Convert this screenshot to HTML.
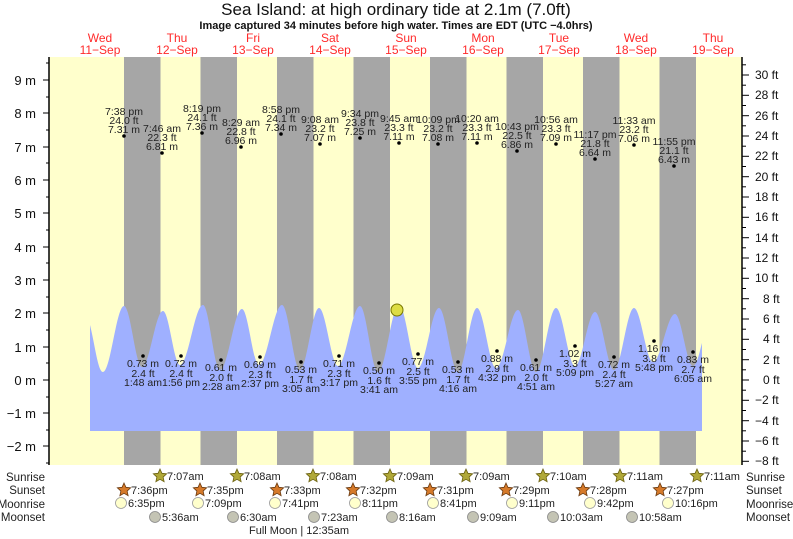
<!DOCTYPE html>
<html><head><meta charset="utf-8"><style>
html,body{margin:0;padding:0;background:#fff;}
svg{display:block;font-family:"Liberation Sans",sans-serif;}
</style></head><body>
<svg width="793" height="539" viewBox="0 0 793 539" xmlns="http://www.w3.org/2000/svg">
<rect width="793" height="539" fill="#fff"/>
<text x="396" y="15" text-anchor="middle" font-size="17" fill="#111">Sea Island: at high  ordinary tide at 2.1m (7.0ft)</text>
<text x="396" y="29" text-anchor="middle" font-size="11" font-weight="bold" fill="#111">Image captured 34 minutes before high water. Times are EDT (UTC −4.0hrs)</text>
<g font-size="12" fill="#ff2a2a" text-anchor="middle">
<text x="100" y="42">Wed</text><text x="100" y="54">11−Sep</text>
<text x="177" y="42">Thu</text><text x="177" y="54">12−Sep</text>
<text x="253" y="42">Fri</text><text x="253" y="54">13−Sep</text>
<text x="330" y="42">Sat</text><text x="330" y="54">14−Sep</text>
<text x="406" y="42">Sun</text><text x="406" y="54">15−Sep</text>
<text x="483" y="42">Mon</text><text x="483" y="54">16−Sep</text>
<text x="559" y="42">Tue</text><text x="559" y="54">17−Sep</text>
<text x="636" y="42">Wed</text><text x="636" y="54">18−Sep</text>
<text x="713" y="42">Thu</text><text x="713" y="54">19−Sep</text>
</g>
<rect x="49" y="57" width="693" height="408" fill="#ffffcc"/>
<g fill="#a6a6a6">
<rect x="124" y="57" width="36.5" height="408"/><rect x="200.5" y="57" width="36.5" height="408"/>
<rect x="277" y="57" width="36.5" height="408"/><rect x="353.5" y="57" width="36.5" height="408"/>
<rect x="430" y="57" width="36.5" height="408"/><rect x="506.5" y="57" width="36.5" height="408"/>
<rect x="583" y="57" width="36.5" height="408"/><rect x="659.5" y="57" width="36.5" height="408"/>
</g>
<path fill="#9fb0ff" d="M90,431 L90,325 C95,345 98,372 103,372 C110.6,372 116.4,306 124,306 C130.5,306 135.5,367 142,367 C149.6,367 155.4,311 163,311 C169.1,311 173.9,365 180,365 C188.3,365 194.7,305 203,305 C209.1,305 213.9,370 220,370 C227.9,370 234.1,309 242,309 C248.1,309 252.9,365 259,365 C267.3,365 273.7,305 282,305 C288.5,305 293.5,370 300,370 C306.8,370 312.2,308 319,308 C325.8,308 331.2,366 338,366 C345.9,366 352.1,306 360,306 C366.5,306 371.5,372 378,372 C385.6,372 391.4,305 399,305 C405.8,305 411.2,368 418,368 C425.6,368 431.4,308 439,308 C445.8,308 451.2,372 458,372 C464.8,372 470.2,308 477,308 C483.8,308 489.2,368 496,368 C503.9,368 510.1,310 518,310 C524.5,310 529.5,372 536,372 C543.2,372 548.8,308 556,308 C562.8,308 568.2,366 575,366 C582.2,366 587.8,312 595,312 C601.8,312 607.2,370 614,370 C621.2,370 626.8,308 634,308 C640.8,308 646.2,362 653,362 C660.9,362 667.1,314 675,314 C681.5,314 686.5,366 693,366 C697,366 700,350 702,343 L702,431 Z"/>
<circle cx="397" cy="310" r="6" fill="#dddd44" stroke="#777700" stroke-width="1"/>
<line x1="49" y1="57" x2="49" y2="465" stroke="#000" stroke-width="1.5"/>
<g stroke="#000" stroke-width="1">
<line x1="43" y1="80" x2="49" y2="80"/><line x1="43" y1="113" x2="49" y2="113"/><line x1="43" y1="147" x2="49" y2="147"/><line x1="43" y1="180" x2="49" y2="180"/><line x1="43" y1="213" x2="49" y2="213"/><line x1="43" y1="247" x2="49" y2="247"/><line x1="43" y1="280" x2="49" y2="280"/><line x1="43" y1="313" x2="49" y2="313"/><line x1="43" y1="347" x2="49" y2="347"/><line x1="43" y1="380" x2="49" y2="380"/><line x1="43" y1="413" x2="49" y2="413"/><line x1="43" y1="446" x2="49" y2="446"/>
<line x1="46" y1="63" x2="49" y2="63"/><line x1="46" y1="97" x2="49" y2="97"/><line x1="46" y1="130" x2="49" y2="130"/><line x1="46" y1="163" x2="49" y2="163"/><line x1="46" y1="197" x2="49" y2="197"/><line x1="46" y1="230" x2="49" y2="230"/><line x1="46" y1="263" x2="49" y2="263"/><line x1="46" y1="297" x2="49" y2="297"/><line x1="46" y1="330" x2="49" y2="330"/><line x1="46" y1="363" x2="49" y2="363"/><line x1="46" y1="397" x2="49" y2="397"/><line x1="46" y1="430" x2="49" y2="430"/><line x1="46" y1="463" x2="49" y2="463"/>
</g>
<g font-size="13" text-anchor="end" fill="#111">
<text x="36" y="85">9 m</text><text x="36" y="118">8 m</text><text x="36" y="152">7 m</text><text x="36" y="185">6 m</text><text x="36" y="218">5 m</text><text x="36" y="252">4 m</text><text x="36" y="285">3 m</text><text x="36" y="318">2 m</text><text x="36" y="352">1 m</text><text x="36" y="385">0 m</text><text x="36" y="418">−1 m</text><text x="36" y="451">−2 m</text>
</g>
<line x1="742" y1="57" x2="742" y2="465" stroke="#000" stroke-width="1.5"/>
<g stroke="#000" stroke-width="1">
<line x1="742" y1="75" x2="749" y2="75"/><line x1="742" y1="95.3" x2="749" y2="95.3"/><line x1="742" y1="115.7" x2="749" y2="115.7"/><line x1="742" y1="136" x2="749" y2="136"/><line x1="742" y1="156.3" x2="749" y2="156.3"/><line x1="742" y1="176.7" x2="749" y2="176.7"/><line x1="742" y1="197" x2="749" y2="197"/><line x1="742" y1="217.3" x2="749" y2="217.3"/><line x1="742" y1="237.7" x2="749" y2="237.7"/><line x1="742" y1="258" x2="749" y2="258"/><line x1="742" y1="278.3" x2="749" y2="278.3"/><line x1="742" y1="298.7" x2="749" y2="298.7"/><line x1="742" y1="319" x2="749" y2="319"/><line x1="742" y1="339.3" x2="749" y2="339.3"/><line x1="742" y1="359.7" x2="749" y2="359.7"/><line x1="742" y1="380" x2="749" y2="380"/><line x1="742" y1="400.3" x2="749" y2="400.3"/><line x1="742" y1="420.7" x2="749" y2="420.7"/><line x1="742" y1="441" x2="749" y2="441"/><line x1="742" y1="461.3" x2="749" y2="461.3"/>
<line x1="742" y1="64.8" x2="746" y2="64.8"/><line x1="742" y1="85.2" x2="746" y2="85.2"/><line x1="742" y1="105.5" x2="746" y2="105.5"/><line x1="742" y1="125.8" x2="746" y2="125.8"/><line x1="742" y1="146.2" x2="746" y2="146.2"/><line x1="742" y1="166.5" x2="746" y2="166.5"/><line x1="742" y1="186.8" x2="746" y2="186.8"/><line x1="742" y1="207.2" x2="746" y2="207.2"/><line x1="742" y1="227.5" x2="746" y2="227.5"/><line x1="742" y1="247.8" x2="746" y2="247.8"/><line x1="742" y1="268.2" x2="746" y2="268.2"/><line x1="742" y1="288.5" x2="746" y2="288.5"/><line x1="742" y1="308.8" x2="746" y2="308.8"/><line x1="742" y1="329.2" x2="746" y2="329.2"/><line x1="742" y1="349.5" x2="746" y2="349.5"/><line x1="742" y1="369.8" x2="746" y2="369.8"/><line x1="742" y1="390.2" x2="746" y2="390.2"/><line x1="742" y1="410.5" x2="746" y2="410.5"/><line x1="742" y1="430.8" x2="746" y2="430.8"/><line x1="742" y1="451.2" x2="746" y2="451.2"/>
</g>
<g font-size="12" fill="#111">
<text x="755" y="79">30 ft</text><text x="755" y="99">28 ft</text><text x="755" y="120">26 ft</text><text x="755" y="140">24 ft</text><text x="755" y="160">22 ft</text><text x="755" y="181">20 ft</text><text x="755" y="201">18 ft</text><text x="755" y="221">16 ft</text><text x="755" y="242">14 ft</text><text x="755" y="262">12 ft</text><text x="755" y="282">10 ft</text><text x="763" y="303">8 ft</text><text x="763" y="323">6 ft</text><text x="763" y="343">4 ft</text><text x="763" y="364">2 ft</text><text x="763" y="384">0 ft</text><text x="755" y="404">−2 ft</text><text x="755" y="425">−4 ft</text><text x="755" y="445">−6 ft</text><text x="755" y="465">−8 ft</text>
</g>
<g fill="#000"><circle cx="124" cy="136" r="1.8"/><circle cx="162" cy="153" r="1.8"/><circle cx="202" cy="133" r="1.8"/><circle cx="241" cy="147" r="1.8"/><circle cx="281" cy="134" r="1.8"/><circle cx="320" cy="144" r="1.8"/><circle cx="360" cy="138" r="1.8"/><circle cx="399" cy="143" r="1.8"/><circle cx="438" cy="144" r="1.8"/><circle cx="477" cy="143" r="1.8"/><circle cx="517" cy="151" r="1.8"/><circle cx="556" cy="144" r="1.8"/><circle cx="595" cy="159" r="1.8"/><circle cx="634" cy="145" r="1.8"/><circle cx="674" cy="166" r="1.8"/>
<circle cx="143" cy="356" r="1.8"/><circle cx="181" cy="356" r="1.8"/><circle cx="221" cy="360" r="1.8"/><circle cx="260" cy="357" r="1.8"/><circle cx="301" cy="362" r="1.8"/><circle cx="339" cy="356" r="1.8"/><circle cx="379" cy="363" r="1.8"/><circle cx="418" cy="354" r="1.8"/><circle cx="458" cy="362" r="1.8"/><circle cx="497" cy="351" r="1.8"/><circle cx="536" cy="360" r="1.8"/><circle cx="575" cy="346" r="1.8"/><circle cx="614" cy="357" r="1.8"/><circle cx="654" cy="341" r="1.8"/><circle cx="693" cy="352" r="1.8"/></g>
<g font-size="10.5" fill="#222" text-anchor="middle">
<text x="124" y="115">7:38 pm</text><text x="124" y="124">24.0 ft</text><text x="124" y="133">7.31 m</text>
<text x="162" y="132">7:46 am</text><text x="162" y="141">22.3 ft</text><text x="162" y="150">6.81 m</text>
<text x="202" y="112">8:19 pm</text><text x="202" y="121">24.1 ft</text><text x="202" y="130">7.36 m</text>
<text x="241" y="126">8:29 am</text><text x="241" y="135">22.8 ft</text><text x="241" y="144">6.96 m</text>
<text x="281" y="113">8:58 pm</text><text x="281" y="122">24.1 ft</text><text x="281" y="131">7.34 m</text>
<text x="320" y="123">9:08 am</text><text x="320" y="132">23.2 ft</text><text x="320" y="141">7.07 m</text>
<text x="360" y="117">9:34 pm</text><text x="360" y="126">23.8 ft</text><text x="360" y="135">7.25 m</text>
<text x="399" y="122">9:45 am</text><text x="399" y="131">23.3 ft</text><text x="399" y="140">7.11 m</text>
<text x="438" y="123">10:09 pm</text><text x="438" y="132">23.2 ft</text><text x="438" y="141">7.08 m</text>
<text x="477" y="122">10:20 am</text><text x="477" y="131">23.3 ft</text><text x="477" y="140">7.11 m</text>
<text x="517" y="130">10:43 pm</text><text x="517" y="139">22.5 ft</text><text x="517" y="148">6.86 m</text>
<text x="556" y="123">10:56 am</text><text x="556" y="132">23.3 ft</text><text x="556" y="141">7.09 m</text>
<text x="595" y="138">11:17 pm</text><text x="595" y="147">21.8 ft</text><text x="595" y="156">6.64 m</text>
<text x="634" y="124">11:33 am</text><text x="634" y="133">23.2 ft</text><text x="634" y="142">7.06 m</text>
<text x="674" y="145">11:55 pm</text><text x="674" y="154">21.1 ft</text><text x="674" y="163">6.43 m</text>
<text x="143" y="367">0.73 m</text><text x="143" y="377">2.4 ft</text><text x="143" y="386">1:48 am</text>
<text x="181" y="367">0.72 m</text><text x="181" y="377">2.4 ft</text><text x="181" y="386">1:56 pm</text>
<text x="221" y="371">0.61 m</text><text x="221" y="381">2.0 ft</text><text x="221" y="390">2:28 am</text>
<text x="260" y="368">0.69 m</text><text x="260" y="378">2.3 ft</text><text x="260" y="387">2:37 pm</text>
<text x="301" y="373">0.53 m</text><text x="301" y="383">1.7 ft</text><text x="301" y="392">3:05 am</text>
<text x="339" y="367">0.71 m</text><text x="339" y="377">2.3 ft</text><text x="339" y="386">3:17 pm</text>
<text x="379" y="374">0.50 m</text><text x="379" y="384">1.6 ft</text><text x="379" y="393">3:41 am</text>
<text x="418" y="365">0.77 m</text><text x="418" y="375">2.5 ft</text><text x="418" y="384">3:55 pm</text>
<text x="458" y="373">0.53 m</text><text x="458" y="383">1.7 ft</text><text x="458" y="392">4:16 am</text>
<text x="497" y="362">0.88 m</text><text x="497" y="372">2.9 ft</text><text x="497" y="381">4:32 pm</text>
<text x="536" y="371">0.61 m</text><text x="536" y="381">2.0 ft</text><text x="536" y="390">4:51 am</text>
<text x="575" y="357">1.02 m</text><text x="575" y="367">3.3 ft</text><text x="575" y="376">5:09 pm</text>
<text x="614" y="368">0.72 m</text><text x="614" y="378">2.4 ft</text><text x="614" y="387">5:27 am</text>
<text x="654" y="352">1.16 m</text><text x="654" y="362">3.8 ft</text><text x="654" y="371">5:48 pm</text>
<text x="693" y="363">0.83 m</text><text x="693" y="373">2.7 ft</text><text x="693" y="382">6:05 am</text>
</g>
<g font-size="11.5" fill="#222">
<g text-anchor="end"><text x="45" y="481">Sunrise</text><text x="45" y="494">Sunset</text><text x="45" y="508">Moonrise</text><text x="45" y="521">Moonset</text></g>
<text x="746" y="481">Sunrise</text><text x="746" y="494">Sunset</text><text x="746" y="508">Moonrise</text><text x="746" y="521">Moonset</text>
</g>
<g fill="#b0a838" stroke="#6a6010" stroke-width="0.8">
<polygon transform="translate(160,476)" points="0,-7 1.94,-2.67 6.66,-2.16 3.14,1.02 4.11,5.66 0,3.3 -4.11,5.66 -3.14,1.02 -6.66,-2.16 -1.94,-2.67"/>
<polygon transform="translate(237,476)" points="0,-7 1.94,-2.67 6.66,-2.16 3.14,1.02 4.11,5.66 0,3.3 -4.11,5.66 -3.14,1.02 -6.66,-2.16 -1.94,-2.67"/>
<polygon transform="translate(313,476)" points="0,-7 1.94,-2.67 6.66,-2.16 3.14,1.02 4.11,5.66 0,3.3 -4.11,5.66 -3.14,1.02 -6.66,-2.16 -1.94,-2.67"/>
<polygon transform="translate(390,476)" points="0,-7 1.94,-2.67 6.66,-2.16 3.14,1.02 4.11,5.66 0,3.3 -4.11,5.66 -3.14,1.02 -6.66,-2.16 -1.94,-2.67"/>
<polygon transform="translate(466,476)" points="0,-7 1.94,-2.67 6.66,-2.16 3.14,1.02 4.11,5.66 0,3.3 -4.11,5.66 -3.14,1.02 -6.66,-2.16 -1.94,-2.67"/>
<polygon transform="translate(543,476)" points="0,-7 1.94,-2.67 6.66,-2.16 3.14,1.02 4.11,5.66 0,3.3 -4.11,5.66 -3.14,1.02 -6.66,-2.16 -1.94,-2.67"/>
<polygon transform="translate(620,476)" points="0,-7 1.94,-2.67 6.66,-2.16 3.14,1.02 4.11,5.66 0,3.3 -4.11,5.66 -3.14,1.02 -6.66,-2.16 -1.94,-2.67"/>
<polygon transform="translate(697,476)" points="0,-7 1.94,-2.67 6.66,-2.16 3.14,1.02 4.11,5.66 0,3.3 -4.11,5.66 -3.14,1.02 -6.66,-2.16 -1.94,-2.67"/>
</g>
<g fill="#d67a2a" stroke="#6a3a10" stroke-width="0.8">
<polygon transform="translate(124,490)" points="0,-7 1.94,-2.67 6.66,-2.16 3.14,1.02 4.11,5.66 0,3.3 -4.11,5.66 -3.14,1.02 -6.66,-2.16 -1.94,-2.67"/>
<polygon transform="translate(200,490)" points="0,-7 1.94,-2.67 6.66,-2.16 3.14,1.02 4.11,5.66 0,3.3 -4.11,5.66 -3.14,1.02 -6.66,-2.16 -1.94,-2.67"/>
<polygon transform="translate(277,490)" points="0,-7 1.94,-2.67 6.66,-2.16 3.14,1.02 4.11,5.66 0,3.3 -4.11,5.66 -3.14,1.02 -6.66,-2.16 -1.94,-2.67"/>
<polygon transform="translate(353,490)" points="0,-7 1.94,-2.67 6.66,-2.16 3.14,1.02 4.11,5.66 0,3.3 -4.11,5.66 -3.14,1.02 -6.66,-2.16 -1.94,-2.67"/>
<polygon transform="translate(430,490)" points="0,-7 1.94,-2.67 6.66,-2.16 3.14,1.02 4.11,5.66 0,3.3 -4.11,5.66 -3.14,1.02 -6.66,-2.16 -1.94,-2.67"/>
<polygon transform="translate(506,490)" points="0,-7 1.94,-2.67 6.66,-2.16 3.14,1.02 4.11,5.66 0,3.3 -4.11,5.66 -3.14,1.02 -6.66,-2.16 -1.94,-2.67"/>
<polygon transform="translate(583,490)" points="0,-7 1.94,-2.67 6.66,-2.16 3.14,1.02 4.11,5.66 0,3.3 -4.11,5.66 -3.14,1.02 -6.66,-2.16 -1.94,-2.67"/>
<polygon transform="translate(660,490)" points="0,-7 1.94,-2.67 6.66,-2.16 3.14,1.02 4.11,5.66 0,3.3 -4.11,5.66 -3.14,1.02 -6.66,-2.16 -1.94,-2.67"/>
</g>
<g fill="#ffffcc" stroke="#999" stroke-width="0.8">
<circle cx="121" cy="503" r="5.5"/><circle cx="198" cy="503" r="5.5"/><circle cx="275" cy="503" r="5.5"/><circle cx="355" cy="503" r="5.5"/><circle cx="433" cy="503" r="5.5"/><circle cx="512" cy="503" r="5.5"/><circle cx="590" cy="503" r="5.5"/><circle cx="668" cy="503" r="5.5"/>
</g>
<g fill="#c4c4b4" stroke="#888" stroke-width="0.8">
<circle cx="155" cy="517" r="5.5"/><circle cx="233" cy="517" r="5.5"/><circle cx="314" cy="517" r="5.5"/><circle cx="392" cy="517" r="5.5"/><circle cx="473" cy="517" r="5.5"/><circle cx="553" cy="517" r="5.5"/><circle cx="632" cy="517" r="5.5"/>
</g>
<g font-size="11" fill="#222">
<text x="167" y="480">7:07am</text><text x="244" y="480">7:08am</text><text x="320" y="480">7:08am</text><text x="397" y="480">7:09am</text><text x="473" y="480">7:09am</text><text x="550" y="480">7:10am</text><text x="627" y="480">7:11am</text><text x="704" y="480">7:11am</text>
<text x="131" y="494">7:36pm</text><text x="207" y="494">7:35pm</text><text x="284" y="494">7:33pm</text><text x="360" y="494">7:32pm</text><text x="437" y="494">7:31pm</text><text x="513" y="494">7:29pm</text><text x="590" y="494">7:28pm</text><text x="667" y="494">7:27pm</text>
<text x="128" y="507">6:35pm</text><text x="205" y="507">7:09pm</text><text x="282" y="507">7:41pm</text><text x="362" y="507">8:11pm</text><text x="440" y="507">8:41pm</text><text x="519" y="507">9:11pm</text><text x="597" y="507">9:42pm</text><text x="675" y="507">10:16pm</text>
<text x="162" y="521">5:36am</text><text x="240" y="521">6:30am</text><text x="321" y="521">7:23am</text><text x="399" y="521">8:16am</text><text x="480" y="521">9:09am</text><text x="560" y="521">10:03am</text><text x="639" y="521">10:58am</text>
<text x="249" y="534">Full Moon | 12:35am</text>
</g>
</svg>
</body></html>
